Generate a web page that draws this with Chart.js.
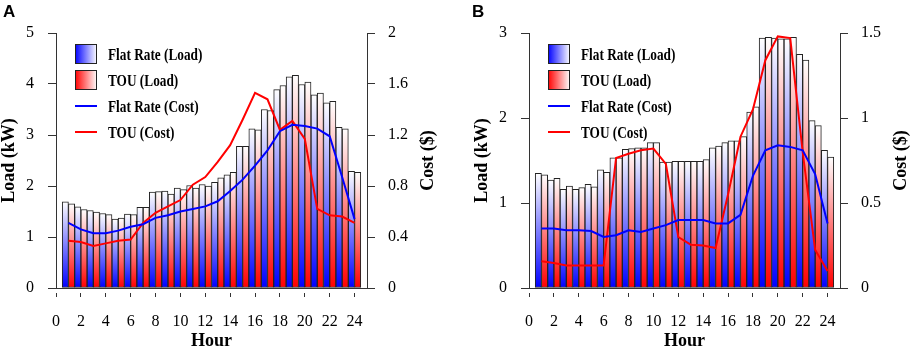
<!DOCTYPE html>
<html>
<head>
<meta charset="utf-8">
<script src="https://cdn.jsdelivr.net/npm/chart.js@4"></script>
<style>
  body { margin: 0; width: 913px; height: 349px; overflow: hidden; background: #fff; position: relative; }
  canvas { position: absolute; top: 0; }
  #chartA { left: 0; }
  #chartB { left: 473px; }
  .tag { position: absolute; top: 3px; font: bold 17px "Liberation Sans", Arial, sans-serif; line-height: 1; }
</style>
</head>
<body>
<canvas id="chartA" width="473" height="349"></canvas>
<canvas id="chartB" width="440" height="349"></canvas>
<div class="tag" style="left:3px">A</div>
<div class="tag" style="left:472px">B</div>

<script>
// x values and axis ticks
const hours = [1, 2, 3, 4, 5, 6, 7, 8, 9, 10, 11, 12, 13, 14, 15, 16, 17, 18, 19, 20, 21, 22, 23, 24];
const hourTicks = [0, 2, 4, 6, 8, 10, 12, 14, 16, 18, 20, 22, 24];
const legendLabels = ["Flat Rate (Load)", "TOU (Load)", "Flat Rate (Cost)", "TOU (Cost)"];

// panel A
const flatLoadA = [1.69, 1.59, 1.52, 1.46, 1.35, 1.45, 1.58, 1.88, 1.90, 1.96, 2.01, 2.03, 2.07, 2.22, 2.78, 3.12, 3.50, 3.89, 4.14, 3.99, 3.79, 3.63, 3.15, 2.29];
const touLoadA = [1.65, 1.54, 1.49, 1.44, 1.37, 1.44, 1.58, 1.89, 1.84, 1.93, 1.96, 2.00, 2.16, 2.27, 2.78, 3.10, 3.48, 3.97, 4.17, 4.04, 3.82, 3.66, 3.12, 2.27];
const flatCostA = [0.51, 0.46, 0.43, 0.43, 0.45, 0.48, 0.50, 0.55, 0.57, 0.60, 0.62, 0.64, 0.68, 0.76, 0.85, 0.96, 1.08, 1.23, 1.28, 1.27, 1.25, 1.19, 0.87, 0.54];
const touCostA = [0.37, 0.36, 0.33, 0.35, 0.37, 0.38, 0.51, 0.59, 0.64, 0.69, 0.81, 0.87, 0.99, 1.12, 1.32, 1.53, 1.48, 1.24, 1.31, 1.17, 0.62, 0.57, 0.56, 0.51];
const loadTicksA = [0, 1, 2, 3, 4, 5];
const costTicksA = [0, 0.4, 0.8, 1.2, 1.6, 2];

// panel B
const flatLoadB = [1.35, 1.27, 1.16, 1.16, 1.22, 1.39, 1.53, 1.63, 1.65, 1.71, 1.48, 1.49, 1.49, 1.49, 1.65, 1.71, 1.73, 2.07, 2.94, 2.94, 2.93, 2.75, 1.97, 1.62];
const touLoadB = [1.33, 1.29, 1.20, 1.18, 1.19, 1.36, 1.53, 1.64, 1.65, 1.71, 1.48, 1.49, 1.49, 1.51, 1.67, 1.73, 1.78, 2.13, 2.95, 2.93, 2.95, 2.68, 1.91, 1.54];
const flatCostB = [0.35, 0.35, 0.34, 0.34, 0.335, 0.30, 0.31, 0.34, 0.33, 0.35, 0.37, 0.40, 0.40, 0.40, 0.38, 0.38, 0.43, 0.66, 0.81, 0.84, 0.83, 0.81, 0.67, 0.38];
const touCostB = [0.157, 0.147, 0.133, 0.133, 0.133, 0.133, 0.765, 0.79, 0.81, 0.82, 0.73, 0.30, 0.255, 0.25, 0.235, 0.55, 0.89, 1.05, 1.34, 1.48, 1.47, 0.80, 0.225, 0.10];
const loadTicksB = [0, 1, 2, 3];
const costTicksB = [0, 0.5, 1, 1.5];

Chart.defaults.font.family = "'Liberation Serif', 'Times New Roman', serif";
Chart.defaults.color = "#000";
Chart.defaults.animation = false;

const AXIS = "#333";
const BLUE = "#0000ff";
const RED = "#ff0000";

function toPoints(values) {
  return values.map((v, i) => ({ x: hours[i], y: v }));
}

// each bar fades from its colour at 0 to white at its own top
function barFill(color) {
  return (c) => {
    let chart = c.chart;
    if (!chart.chartArea || !c.parsed) return color;
    let y = chart.scales.y;
    let g = chart.ctx.createLinearGradient(0, y.getPixelForValue(0), 0, y.getPixelForValue(c.parsed.y));
    g.addColorStop(0, color);
    g.addColorStop(1, "#ffffff");
    return g;
  };
}

function fixedTicks(list) {
  return (scale) => {
    scale.ticks = list.map((v) => ({ value: v }));
  };
}

// legend in the top-left corner of the plot + right-hand axis title (reads upward like the left one)
const panelExtras = {
  id: "panelExtras",
  afterDraw(chart) {
    let ctx = chart.ctx;
    let a = chart.chartArea;
    let x = a.left + 19;
    ctx.save();
    legendLabels.forEach((label, i) => {
      let cy = a.top + 21 + i * 26;
      let color = i % 2 === 0 ? BLUE : RED;
      if (i < 2) {
        let g = ctx.createLinearGradient(x, 0, x + 22, 0);
        g.addColorStop(0, color);
        g.addColorStop(1, "#ffffff");
        ctx.fillStyle = g;
        ctx.fillRect(x, cy - 9.5, 22, 19);
        ctx.strokeStyle = "#222";
        ctx.lineWidth = 1;
        ctx.strokeRect(x + 0.5, cy - 9.5, 21, 19);
      } else {
        ctx.strokeStyle = color;
        ctx.lineWidth = 2;
        ctx.beginPath();
        ctx.moveTo(x, cy);
        ctx.lineTo(x + 22, cy);
        ctx.stroke();
      }
      ctx.save();
      ctx.translate(a.left + 52, cy + 6);
      ctx.scale(0.83, 1);
      ctx.fillStyle = "#000";
      ctx.font = "bold 16px 'Liberation Serif', serif";
      ctx.textBaseline = "alphabetic";
      ctx.fillText(label, 0, 0);
      ctx.restore();
    });

    ctx.translate(a.right + 61, (a.top + a.bottom) / 2);
    ctx.rotate(-Math.PI / 2);
    ctx.font = "bold 18px 'Liberation Serif', serif";
    ctx.fillStyle = "#000";
    ctx.textAlign = "center";
    ctx.textBaseline = "middle";
    ctx.fillText("Cost ($)", 0, 0);
    ctx.restore();
  },
};

function makePanel(canvasId, p) {
  let canvas = document.getElementById(canvasId);
  let barStyle = { borderColor: "#222", borderWidth: 1, borderSkipped: false, categoryPercentage: 1, barPercentage: 1, order: 2, yAxisID: "y" };
  let lineStyle = { type: "line", borderWidth: 2, pointRadius: 0, tension: 0, order: 1, yAxisID: "y2" };

  return new Chart(canvas, {
    type: "bar",
    data: {
      datasets: [
        Object.assign({ label: legendLabels[2], data: toPoints(p.flatCost), borderColor: BLUE }, lineStyle),
        Object.assign({ label: legendLabels[3], data: toPoints(p.touCost), borderColor: RED }, lineStyle),
        Object.assign({ label: legendLabels[0], data: toPoints(p.flatLoad), backgroundColor: barFill(BLUE) }, barStyle),
        Object.assign({ label: legendLabels[1], data: toPoints(p.touLoad), backgroundColor: barFill(RED) }, barStyle),
      ],
    },
    options: {
      responsive: false,
      layout: { padding: { top: 33, left: 0, right: 0, bottom: 0 } },
      plugins: { legend: { display: false }, tooltip: { enabled: false } },
      scales: {
        x: {
          type: "linear",
          min: 0,
          max: 25,
          offset: false,
          afterBuildTicks: fixedTicks(hourTicks),
          afterFit: (s) => { s.height = 61; },
          border: { color: AXIS },
          grid: { offset: false, drawOnChartArea: false, color: AXIS, tickLength: 9, tickBorderDash: [0, 4, 5, 50] },
          ticks: { autoSkip: false, maxRotation: 0, padding: 15, font: { size: 16 }, callback: (v) => String(v) },
          title: { display: true, text: "Hour", font: { size: 18, weight: "bold", lineHeight: 0.9 }, padding: 0 },
        },
        y: {
          position: "left",
          min: 0,
          max: p.loadTicks[p.loadTicks.length - 1],
          afterBuildTicks: fixedTicks(p.loadTicks),
          afterFit: (s) => { s.width = 56; },
          border: { color: AXIS },
          grid: { drawOnChartArea: false, color: AXIS, tickLength: 8 },
          ticks: { padding: 14, font: { size: 16 }, callback: (v) => String(v) },
          title: { display: true, text: "Load (kW)", font: { size: 18, weight: "bold", lineHeight: 1 }, padding: 0 },
        },
        y2: {
          position: "right",
          min: 0,
          max: p.costTicks[p.costTicks.length - 1],
          afterBuildTicks: fixedTicks(p.costTicks),
          afterFit: (s) => { s.width = canvas.width - 367; },
          border: { color: AXIS },
          grid: { drawOnChartArea: false, color: AXIS, tickLength: 8 },
          ticks: { padding: 13, font: { size: 16 }, callback: (v) => String(v) },
        },
      },
    },
    plugins: [panelExtras],
  });
}

makePanel("chartA", { flatLoad: flatLoadA, touLoad: touLoadA, flatCost: flatCostA, touCost: touCostA, loadTicks: loadTicksA, costTicks: costTicksA });
makePanel("chartB", { flatLoad: flatLoadB, touLoad: touLoadB, flatCost: flatCostB, touCost: touCostB, loadTicks: loadTicksB, costTicks: costTicksB });
</script>
</body>
</html>
